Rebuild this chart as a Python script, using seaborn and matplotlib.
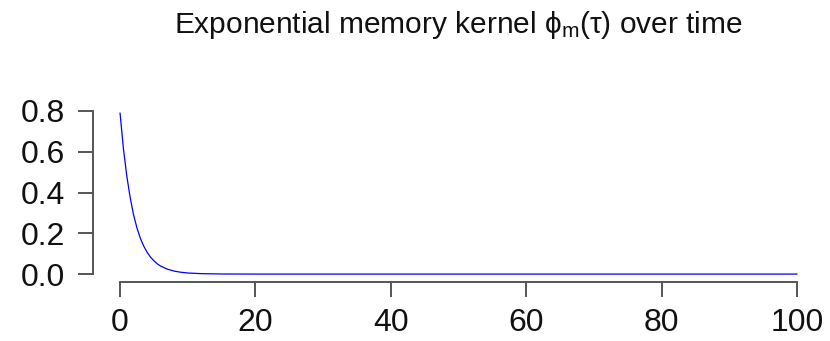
import matplotlib
matplotlib.use("Agg")
import matplotlib.pyplot as plt
import seaborn as sns
import pandas as pd

# values
tau = [0, 0.5, 1, 1.5, 2, 2.5, 3, 3.5, 4, 4.5, 5, 5.5, 6, 7, 8, 9, 10, 12, 15, 20, 30, 50, 100]
phi = [0.79, 0.615, 0.48, 0.375, 0.29, 0.226, 0.176, 0.137, 0.107, 0.083, 0.065, 0.05,
       0.039, 0.024, 0.0145, 0.0088, 0.0053, 0.002, 0.0004, 0.0, 0.0, 0.0, 0.0]
x_ticks = [0, 20, 40, 60, 80, 100]
y_ticks = [0.0, 0.2, 0.4, 0.6, 0.8]
title = r"Exponential memory kernel $\phi_{\mathrm{m}}(\tau)$ over time"

sns.set_style("white")
plt.rcParams["font.family"] = ["Liberation Sans", "DejaVu Sans"]
plt.rcParams["mathtext.fontset"] = "custom"
plt.rcParams["mathtext.rm"] = "Liberation Sans"
plt.rcParams["mathtext.it"] = "Liberation Sans"

df = pd.DataFrame({"tau": tau, "phi": phi})

fig = plt.figure(figsize=(8.3, 3.41), dpi=100)
ax = fig.add_axes([0.112, 0.1774, 0.881, 0.51])
sns.lineplot(data=df, x="tau", y="phi", ax=ax, color="#0000FF", linewidth=0.9)

ax.set_xlim(-4, 104)
ax.set_ylim(-0.0316, 0.8216)
ax.set_xlabel("")
ax.set_ylabel("")
ax.set_xticks(x_ticks)
ax.set_yticks(y_ticks)
ax.set_xticklabels([str(v) for v in x_ticks])
ax.set_yticklabels([f"{v:.1f}" for v in y_ticks])

for s in ["top", "right"]:
    ax.spines[s].set_visible(False)
axc = "#555555"
ax.spines["left"].set_bounds(0, 0.8)
ax.spines["bottom"].set_bounds(0, 100)
ax.spines["bottom"].set_position(("outward", 1))
for s in ["left", "bottom"]:
    ax.spines[s].set_color(axc)
    ax.spines[s].set_linewidth(1.4)
ax.tick_params(axis="both", which="major", direction="out", length=11, width=1.4,
               color=axc, labelsize=23, labelcolor="#111111", pad=8)
ax.tick_params(axis="y", pad=9)
ax.tick_params(left=True, bottom=True)

fig.text(0.552, 0.927, title, ha="center", va="center", fontsize=21.5, color="#111111")

fig.savefig("out.png", dpi=100)
